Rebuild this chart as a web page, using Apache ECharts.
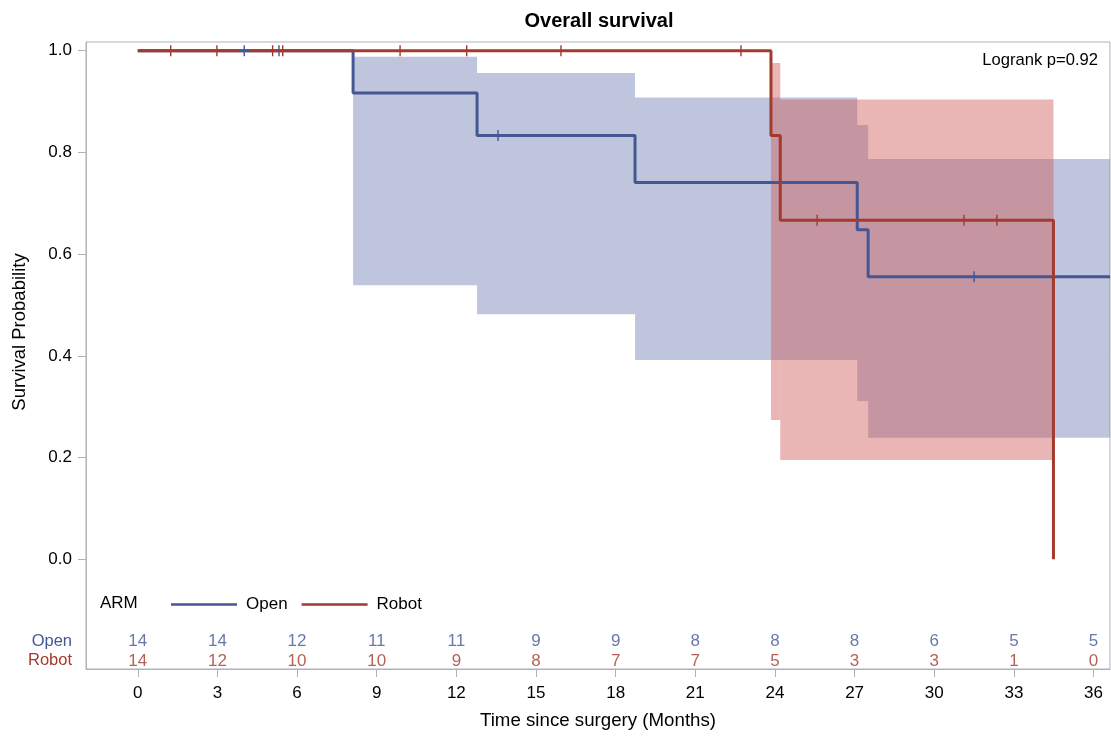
<!DOCTYPE html>
<html>
<head>
<meta charset="utf-8">
<script src="https://cdn.jsdelivr.net/npm/echarts@6/dist/echarts.min.js"></script>
<style>html,body{margin:0;padding:0;background:#fff}#c{width:1111px;height:737px}</style>
</head>
<body>
<div id="c"></div>
<script>
// ---- data ----
const xTicks = [0, 3, 6, 9, 12, 15, 18, 21, 24, 27, 30, 33, 36];
const yTicks = [0, 0.2, 0.4, 0.6, 0.8, 1.0];
const groups = ['Open', 'Robot'];

// Kaplan-Meier step points [time, survival]
const openCurve = [[0, 1], [8.11, 0.9167], [12.78, 0.8333], [18.73, 0.7407], [27.10, 0.6481], [27.51, 0.5556], [36.62, 0.5556]];
const robotCurve = [[0, 1], [23.85, 0.8333], [24.20, 0.6667], [34.49, 0]];

// censored observations [time, survival]
const openCensor = [[4.01, 1], [5.32, 1], [13.57, 0.8333], [31.5, 0.5556]];
const robotCensor = [[1.24, 1], [2.98, 1], [5.08, 1], [5.46, 1], [9.88, 1], [12.39, 1], [15.94, 1], [22.72, 1], [25.59, 0.6667], [31.12, 0.6667], [32.36, 0.6667]];

// confidence bands [tStart, tEnd, lower, upper]
const openBand = [[8.11, 12.78, 0.539, 0.988], [12.78, 18.73, 0.482, 0.956], [18.73, 27.10, 0.392, 0.908], [27.10, 27.51, 0.311, 0.854], [27.51, 36.62, 0.239, 0.787]];
const robotBand = [[23.85, 24.20, 0.274, 0.976], [24.20, 34.49, 0.195, 0.904]];

// numbers at risk
const openAtRisk = [14, 14, 12, 11, 11, 9, 9, 8, 8, 8, 6, 5, 5];
const robotAtRisk = [14, 12, 10, 10, 9, 8, 7, 7, 5, 3, 3, 1, 0];

const pValueText = 'Logrank p=0.92';

// ---- style ----
const FONT = "'Liberation Sans', Arial, sans-serif";
const BLUE = '#445694', RED = '#A23A2E';
const BLUE_FILL = 'rgba(111,126,179,0.45)', RED_FILL = 'rgba(208,91,91,0.45)';
const AXIS = '#aeb2b8';
const XMIN = -1.95, XMAX = 36.62, YMIN = -0.2157, YMAX = 1.0171;

const chart = echarts.init(document.getElementById('c'), null, {renderer: 'canvas'});

function bandSeries(name, data, color) {
  return {
    type: 'custom', name: name + ' band', xAxisIndex: 0, yAxisIndex: 0, clip: true, silent: true,
    data: data, z: 1,
    encode: {x: [0, 1], y: [2, 3]},
    renderItem: function (params, api) {
      const p0 = api.coord([api.value(0), api.value(3)]);
      const p1 = api.coord([api.value(1), api.value(2)]);
      const shape = echarts.graphic.clipRectByRect(
        {x: p0[0], y: p0[1], width: p1[0] - p0[0], height: p1[1] - p0[1]},
        {x: params.coordSys.x, y: params.coordSys.y, width: params.coordSys.width, height: params.coordSys.height});
      return shape && {type: 'rect', shape: shape, style: {fill: color}};
    }
  };
}

const plusPath = 'path://M4.3,0 h1.4 v10 h-1.4 z M0,4.3 h10 v1.4 h-10 z';

function atRiskData(group, arr) {
  return arr.map((v, i) => [xTicks[i], group, v]);
}

const option = {
  animation: false,
  backgroundColor: '#fff',
  title: [
    {text: 'Overall survival', left: 594, top: 6, textAlign: 'center',
     textStyle: {fontFamily: FONT, fontSize: 20, fontWeight: 'bold', color: '#000'}},
    {text: 'ARM', left: 100, top: 595, padding: 0,
     textStyle: {fontFamily: FONT, fontSize: 17, fontWeight: 'normal', color: '#000'}}
  ],
  legend: {
    data: groups, left: 171, top: 596, padding: 0, itemWidth: 66, itemHeight: 14, itemGap: 14,
    icon: 'path://M0,6 h66 v2.6 h-66 z',
    textStyle: {fontFamily: FONT, fontSize: 17, color: '#000', padding: [0, 0, 0, 4]},
    selectedMode: false
  },
  graphic: [
    {type: 'text', x: 20, y: 332, rotation: Math.PI / 2,
     style: {text: 'Survival Probability', fill: '#000', font: '18.5px ' + FONT, align: 'center', verticalAlign: 'middle'}},
    {type: 'text', right: 13, top: 52,
     style: {text: pValueText, fill: '#000', font: '16.6px ' + FONT}}
  ],
  grid: [
    {left: 86, top: 42, width: 1024, height: 627, show: true, borderColor: AXIS, borderWidth: 1, containLabel: false},
    {left: 86, top: 632, width: 1024, height: 38.6, show: false, containLabel: false}
  ],
  xAxis: [
    {type: 'value', gridIndex: 0, min: XMIN, max: XMAX, position: 'bottom',
     axisLine: {show: true, onZero: false, lineStyle: {color: AXIS}}, splitLine: {show: false},
     axisTick: {show: true, customValues: xTicks, length: 8, lineStyle: {color: AXIS}},
     axisLabel: {customValues: xTicks, margin: 16, fontFamily: FONT, fontSize: 17, color: '#000'},
     name: 'Time since surgery (Months)', nameLocation: 'middle', nameGap: 42,
     nameTextStyle: {fontFamily: FONT, fontSize: 18.7, color: '#000'}},
    {type: 'value', gridIndex: 1, min: XMIN, max: XMAX, show: false}
  ],
  yAxis: [
    {type: 'value', gridIndex: 0, min: YMIN, max: YMAX, position: 'left',
     axisLine: {show: true, onZero: false, lineStyle: {color: AXIS}}, splitLine: {show: false},
     axisTick: {show: true, customValues: yTicks, length: 8, lineStyle: {color: AXIS}},
     axisLabel: {customValues: yTicks, margin: 14, fontFamily: FONT, fontSize: 17, color: '#000',
                 formatter: v => v.toFixed(1)}},
    {type: 'category', gridIndex: 1, data: groups, inverse: true,
     axisLine: {show: false}, axisTick: {show: false}, splitLine: {show: false},
     axisLabel: {interval: 0, margin: 14, fontFamily: FONT, fontSize: 16.5,
                 formatter: v => '{' + v + '|' + v + '}',
                 rich: {Open: {color: BLUE, fontFamily: FONT, fontSize: 16.5}, Robot: {color: RED, fontFamily: FONT, fontSize: 16.5}}}}
  ],
  series: [
    bandSeries('Open', openBand, BLUE_FILL),
    bandSeries('Robot', robotBand, RED_FILL),
    {type: 'line', name: 'Open', data: openCurve, step: 'end', symbol: 'none', z: 3,
     lineStyle: {color: BLUE, width: 3}, itemStyle: {color: BLUE}, clip: true},
    {type: 'line', name: 'Robot', data: robotCurve, step: 'end', symbol: 'none', z: 4,
     lineStyle: {color: RED, width: 3}, itemStyle: {color: RED}, clip: true},
    {type: 'scatter', name: 'Open censored', data: openCensor, symbol: plusPath, symbolSize: [10, 11], z: 5,
     itemStyle: {color: BLUE, opacity: 1}},
    {type: 'scatter', name: 'Robot censored', data: robotCensor, symbol: plusPath, symbolSize: [10, 11], z: 5,
     itemStyle: {color: RED, opacity: 1}},
    {type: 'scatter', name: 'Open at risk', xAxisIndex: 1, yAxisIndex: 1, data: atRiskData('Open', openAtRisk),
     symbolSize: 1, itemStyle: {color: 'rgba(0,0,0,0)'},
     label: {show: true, position: 'inside', formatter: p => String(p.value[2]), color: BLUE, fontFamily: FONT, fontSize: 17}},
    {type: 'scatter', name: 'Robot at risk', xAxisIndex: 1, yAxisIndex: 1, data: atRiskData('Robot', robotAtRisk),
     symbolSize: 1, itemStyle: {color: 'rgba(0,0,0,0)'},
     label: {show: true, position: 'inside', formatter: p => String(p.value[2]), color: RED, fontFamily: FONT, fontSize: 17}}
  ]
};
chart.setOption(option);
</script>
</body>
</html>
